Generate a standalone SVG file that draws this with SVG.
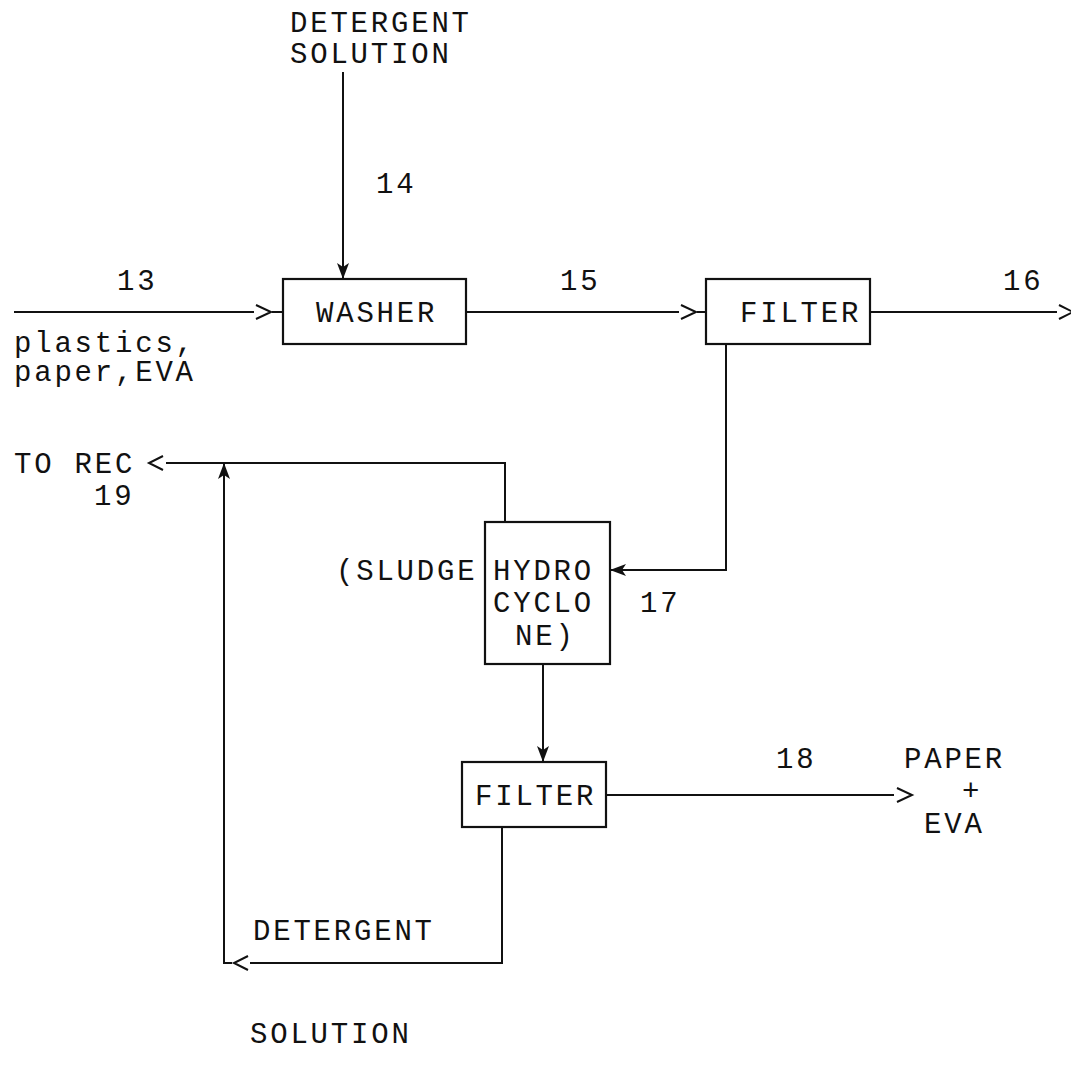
<svg xmlns="http://www.w3.org/2000/svg" width="1071" height="1065" viewBox="0 0 1071 1065">
<style>
.t{font-family:"Liberation Mono","Courier New",monospace;font-size:29px;fill:#111;letter-spacing:2.8px}
.box{fill:none;stroke:#111;stroke-width:2.2}
.ln{fill:none;stroke:#111;stroke-width:2}
</style>
<defs>
<marker id="ah" markerUnits="userSpaceOnUse" markerWidth="16" markerHeight="12" refX="16" refY="6" orient="auto">
<path d="M0,0 L16,6 L0,12 L4,6 z" fill="#111"/>
</marker>
</defs>
<rect width="1071" height="1065" fill="#fff"/>
<g id="connectors">
<path class="ln" d="M14,312 H254"/>
<path class="ln" d="M256,305 L271,312 L256,319"/>
<path class="ln" d="M272,312 H283"/>
<path class="ln" d="M343,72 V279" marker-end="url(#ah)"/>
<path class="ln" d="M466,312 H679"/>
<path class="ln" d="M681,305 L696,312 L681,319"/>
<path class="ln" d="M697,312 H706"/>
<path class="ln" d="M870,312 H1057"/>
<path class="ln" d="M1059,305 L1073,312 L1059,319"/>
<path class="ln" d="M726,344 V570 H610" marker-end="url(#ah)"/>
<path class="ln" d="M505,522 V463 H166"/>
<path class="ln" d="M163,456 L149,463 L163,470"/>
<path class="ln" d="M543,664 V762" marker-end="url(#ah)"/>
<path class="ln" d="M606,795 H894"/>
<path class="ln" d="M897,788 L912,795 L897,802"/>
<path class="ln" d="M502,827 V963 H250"/>
<path class="ln" d="M248,956 L234,963 L248,970"/>
<path class="ln" d="M232,963 H224 V463" marker-end="url(#ah)"/>
</g>
<g id="washer">
<rect class="box" x="283" y="279" width="183" height="65"/>
<text class="t" x="316" y="322">WASHER</text>
</g>
<g id="filter1">
<rect class="box" x="706" y="279" width="164" height="65"/>
<text class="t" x="740" y="322">FILTER</text>
</g>
<g id="hydrocyclone">
<rect class="box" x="485" y="522" width="125" height="142"/>
<text class="t" x="493" y="580">HYDRO</text>
<text class="t" x="493" y="612">CYCLO</text>
<text class="t" x="515" y="645">NE)</text>
</g>
<g id="filter2">
<rect class="box" x="462" y="762" width="144" height="65"/>
<text class="t" x="475" y="805">FILTER</text>
</g>
<g id="labels">
<text class="t" x="290" y="32">DETERGENT</text>
<text class="t" x="290" y="63">SOLUTION</text>
<text class="t" x="376" y="193">14</text>
<text class="t" x="117" y="290">13</text>
<text class="t" x="560" y="290">15</text>
<text class="t" x="1003" y="290">16</text>
<text class="t" x="14" y="352">plastics,</text>
<text class="t" x="14" y="381">paper,EVA</text>
<text class="t" x="14" y="473">TO REC</text>
<text class="t" x="94" y="505">19</text>
<text class="t" x="336" y="580">(SLUDGE</text>
<text class="t" x="640" y="612">17</text>
<text class="t" x="776" y="768">18</text>
<text class="t" x="904" y="768">PAPER</text>
<text class="t" x="962" y="800">+</text>
<text class="t" x="924" y="833">EVA</text>
<text class="t" x="253" y="940">DETERGENT</text>
<text class="t" x="250" y="1043">SOLUTION</text>
</g>
</svg>
